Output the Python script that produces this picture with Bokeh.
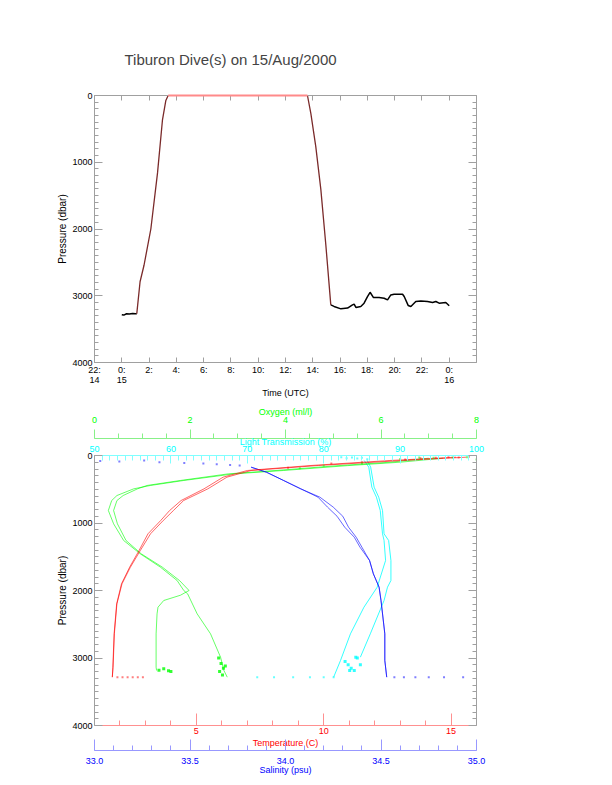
from bokeh.plotting import figure
from bokeh.models import Range1d, LinearAxis, FixedTicker, PrintfTickFormatter, Title
from bokeh.layouts import column
from bokeh.embed import file_html
from bokeh.resources import INLINE

FONT = "Liberation Sans"
GREY = "#a0a0a0"

# ---------------- top panel data: pressure vs time (hours from 00:00 15 Aug) -------------
dive_hour = [0.0, 0.15, 0.35, 0.55, 0.8, 1.0, 1.1, 1.34, 1.63, 2.13, 2.62, 2.98, 3.23, 3.4,
             13.61, 13.86, 14.22, 14.59, 14.96, 15.32, 15.56, 16.06, 16.55, 16.91, 17.03, 17.16,
             17.52, 17.76, 18.01, 18.2, 18.45, 18.86, 19.23, 19.48, 19.72, 19.96, 20.58, 20.7,
             20.99, 21.19, 21.55, 21.92, 22.41, 22.78, 23.02, 23.26, 23.75, 24.0]
dive_pres = [3284, 3290, 3270, 3275, 3265, 3270, 3268, 2790, 2543, 2000, 1160, 370, 74, 0,
             0, 272, 765, 1407, 2247, 3136, 3160, 3196, 3185, 3136, 3126, 3175,
             3160, 3111, 3012, 2948, 3027, 3027, 3037, 3062, 2988, 2978, 2978, 3012,
             3145, 3160, 3086, 3077, 3086, 3101, 3086, 3111, 3101, 3151]
time_ticks = [-2, 0, 2, 4, 6, 8, 10, 12, 14, 16, 18, 20, 22, 24]
time_labels = ["22:\n14", "0:\n15", "2:", "4:", "6:", "8:", "10:", "12:", "14:", "16:",
               "18:", "20:", "22:", "0:\n16"]
pres_major = [0, 1000, 2000, 3000, 4000]
pres_minor = list(range(0, 4001, 100))

# ---------------- bottom panel data: profiles vs pressure ----------------
temp_pres = [25, 74, 148, 222, 321, 494, 667, 815, 963, 1160, 1407, 1654, 1901, 2198, 2642, 3136, 3284]
temp_down = [15.6, 13.1, 9.8, 7.15, 6.2, 5.45, 4.5, 4.1, 3.7, 3.2, 2.8, 2.41, 2.08, 1.88, 1.78, 1.73, 1.7]
temp_up = [15.2, 12.6, 9.5, 7.0, 6.05, 5.3, 4.4, 3.95, 3.6, 3.1, 2.75, 2.38, 2.06, 1.87, 1.77, 1.72, 1.7]

sal_pres = [173, 247, 370, 494, 617, 765, 900, 1062, 1210, 1358, 1555, 1753, 1951, 2148, 2642, 3037, 3284]
sal_down = [33.82, 33.9, 33.99, 34.08, 34.17, 34.22, 34.27, 34.31, 34.36, 34.39, 34.44, 34.46, 34.49, 34.5, 34.52, 34.52, 34.53]
sal_up = [33.82, 33.9, 33.99, 34.08, 34.18, 34.25, 34.3, 34.33, 34.37, 34.40, 34.44, 34.46, 34.49, 34.5, 34.52, 34.52, 34.53]

oxy_down_pres = [40, 99, 150, 222, 272, 370, 444, 494, 593, 667, 815, 1012, 1259, 1457, 1654, 1852,
                 2000, 2049, 2346, 2642, 2988, 3185, 3284]
oxy_down = [7.3, 6.41, 5.3, 3.96, 2.92, 1.87, 1.17, 0.82, 0.47, 0.36, 0.29, 0.4, 0.61, 0.96, 1.38, 1.73,
            1.87, 1.95, 2.15, 2.43, 2.64, 2.71, 2.78]
oxy_up_pres = [40, 99, 150, 222, 272, 370, 444, 494, 593, 667, 815, 1012, 1259, 1457, 1654, 1852,
               2000, 2070, 2148, 2247, 2346, 2642, 3136, 3185]
oxy_up = [7.0, 6.2, 5.1, 3.8, 2.8, 1.8, 1.1, 0.9, 0.6, 0.47, 0.4, 0.48, 0.66, 0.98, 1.42, 1.78,
          1.98, 1.8, 1.45, 1.33, 1.31, 1.29, 1.29, 1.3]

lt_down_pres = [74, 173, 469, 617, 815, 1160, 1259, 1555, 1852, 1951, 2148, 2642, 2988]
lt_down = [85.7, 86.15, 86.6, 87.2, 87.7, 87.9, 88.5, 88.8, 88.8, 88.35, 87.9, 86.1, 84.8]
lt_up_pres = [74, 173, 469, 617, 815, 1160, 1259, 1555, 1951, 2247, 2642, 3037, 3284]
lt_up = [85.3, 85.9, 86.3, 86.9, 87.4, 87.7, 87.9, 88.1, 87.0, 85.27, 83.5, 82.2, 81.3]

# scattered samples near surface and at the bottom
surf_temp = [15.7, 15.3, 14.9, 14.4, 13.8, 13.2, 11.5, 10.3, 8.6]
surf_temp_p = [20, 30, 25, 35, 40, 60, 100, 120, 180]
surf_sal = [33.03, 33.13, 33.26, 33.34, 33.47, 33.57, 33.64, 33.71, 33.76]
surf_sal_p = [80, 90, 74, 100, 110, 120, 130, 140, 148]
surf_oxy = [8.0, 7.8, 7.5, 7.1, 6.8, 6.4, 5.6, 4.8, 4.3]
surf_oxy_p = [60, 25, 30, 35, 30, 50, 120, 150, 190]
surf_lt = [82.3, 83.0, 83.7, 84.4, 85.0, 85.7]
surf_lt_p = [25, 40, 30, 45, 35, 55]
bot_temp = [1.9, 2.1, 2.3, 2.5, 2.7, 2.9]
bot_sal = [34.57, 34.62, 34.68, 34.75, 34.83, 34.93]
bot_lt = [71.3, 73.5, 76.0, 78.2, 80.0, 81.3]
bot_p = [3284, 3284, 3284, 3284, 3284, 3284]
clu_oxy = [1.35, 1.45, 1.55, 1.6, 2.6, 2.65, 2.7, 2.62, 2.68, 2.74]
clu_oxy_p = [3180, 3160, 3190, 3200, 3000, 3080, 3150, 3200, 3250, 3120]
clu_lt = [82.8, 83.2, 83.6, 84.0, 84.4, 84.8, 83.4, 84.2]
clu_lt_p = [3050, 3100, 3150, 3185, 3000, 3100, 3185, 2990]


def style_axis(ax, color, label_color, tick_in, minor_in, tick_out=0, minor_out=0, title_size="9px"):
    ax.axis_line_color = color
    ax.major_tick_line_color = color
    ax.minor_tick_line_color = color
    ax.major_tick_in = tick_in
    ax.major_tick_out = tick_out
    ax.minor_tick_in = minor_in
    ax.minor_tick_out = minor_out
    ax.major_label_text_font = FONT
    ax.major_label_text_font_size = "9px"
    ax.major_label_text_color = label_color
    ax.major_label_text_line_height = 1.0
    ax.axis_label_text_font = FONT
    ax.axis_label_text_font_size = title_size
    ax.axis_label_text_font_style = "normal"
    ax.axis_label_text_color = label_color


def tick_only_axis(marks, length, color, line=True, x_range_name="default"):
    # an axis with no labelled ticks: marks are drawn as minor ticks pointing inwards
    ax = LinearAxis(ticker=FixedTicker(ticks=[], minor_ticks=marks), x_range_name=x_range_name)
    ax.major_tick_in = 0
    ax.major_tick_out = 0
    ax.minor_tick_in = length
    ax.minor_tick_out = 0
    ax.minor_tick_line_color = color
    ax.major_tick_line_color = None
    ax.axis_line_color = color if line else None
    ax.major_label_standoff = 0
    return ax


def add_pressure_axes(p):
    ya = p.yaxis[0]
    ya.ticker = FixedTicker(ticks=pres_major, minor_ticks=pres_minor)
    ya.axis_label = "Pressure (dbar)"
    style_axis(ya, GREY, "black", 8, 4, title_size="10px")
    ya.major_label_standoff = 2
    ya.axis_label_standoff = 1
    p.add_layout(tick_only_axis(pres_minor, 4, GREY), "right")
    p.add_layout(tick_only_axis(pres_major, 8, GREY, line=False), "right")


# ---------------- top figure ----------------
p1 = figure(width=604, height=400, x_range=Range1d(-2, 26), y_range=Range1d(4000, 0),
            output_backend="svg", toolbar_location=None,
            min_border_left=94, min_border_right=128, min_border_top=95, min_border_bottom=35)
p1.outline_line_color = None
p1.grid.visible = False
p1.title.text = "Tiburon Dive(s) on 15/Aug/2000"
p1.title.text_font = FONT
p1.title.text_font_size = "15px"
p1.title.text_font_style = "normal"
p1.title.align = "left"
p1.title.offset = 30
p1.title.standoff = 55

xa = p1.xaxis[0]
xa.ticker = FixedTicker(ticks=time_ticks, minor_ticks=[])
xa.major_label_overrides = {t: l for t, l in zip(time_ticks, time_labels)}
xa.axis_label = "Time (UTC)"
style_axis(xa, GREY, "black", 5, 0)
xa.major_label_standoff = 2
xa.axis_label_standoff = 0
p1.add_layout(tick_only_axis(time_ticks, 5, GREY), "above")
add_pressure_axes(p1)

p1.line(dive_hour[:7], dive_pres[:7], line_color="black", line_width=1.5)
p1.line(dive_hour[19:], dive_pres[19:], line_color="black", line_width=1.5)
p1.line(dive_hour[6:14], dive_pres[6:14], line_color="#7a2a2a", line_width=1.3)
p1.line(dive_hour[14:20], dive_pres[14:20], line_color="#7a2a2a", line_width=1.3)
p1.line(dive_hour[13:15], dive_pres[13:15], line_color="#ff8a8a", line_width=2, level="overlay")

# ---------------- bottom figure ----------------
p2 = figure(width=604, height=380, x_range=Range1d(1, 16), y_range=Range1d(4000, 0),
            output_backend="svg", toolbar_location=None,
            min_border_left=94, min_border_right=128, min_border_top=55, min_border_bottom=55)
p2.outline_line_color = None
p2.grid.visible = False
p2.extra_x_ranges = {"sal": Range1d(33.0, 35.0), "lt": Range1d(50, 100), "oxy": Range1d(0, 8)}

ta = p2.xaxis[0]
ta.ticker = FixedTicker(ticks=[5, 10, 15], minor_ticks=list(range(2, 16)))
ta.axis_label = "Temperature (C)"
style_axis(ta, "#ff9090", "#ff0000", 12, 5)
ta.major_label_standoff = 2
ta.axis_label_standoff = 1

spacer = tick_only_axis([], 0, GREY, line=False)
spacer.major_tick_out = 4
p2.add_layout(spacer, "below")

sa = LinearAxis(x_range_name="sal",
                ticker=FixedTicker(ticks=[33.0, 33.5, 34.0, 34.5, 35.0],
                                   minor_ticks=[round(33.0 + 0.1 * i, 1) for i in range(21)]),
                formatter=PrintfTickFormatter(format="%.1f"), axis_label="Salinity (psu)")
style_axis(sa, "#9898ff", "#0000ff", 11, 5)
sa.major_label_standoff = 7
sa.axis_label_standoff = -2
p2.add_layout(sa, "below")

# light transmission axis (labels only), its title, a small gap, then the oxygen axis
la = LinearAxis(x_range_name="lt",
                ticker=FixedTicker(ticks=[50, 60, 70, 80, 90, 100], minor_ticks=list(range(50, 101))))
style_axis(la, "#80ffff", "#00ffff", 8, 5)
la.major_label_standoff = 4
p2.add_layout(la, "above")
p2.add_layout(Title(text="Light Transmission (%)", align="center", text_font=FONT,
                    text_font_size="9px", text_font_style="normal", text_color="#00ffff",
                    standoff=-8), "above")
gap = tick_only_axis([], 0, GREY, line=False)
gap.major_tick_out = 1
p2.add_layout(gap, "above")

oa = LinearAxis(x_range_name="oxy",
                ticker=FixedTicker(ticks=[0, 2, 4, 6, 8], minor_ticks=[0.5 * i for i in range(17)]),
                axis_label="Oxygen (ml/l)")
style_axis(oa, "#88f088", "#00ff00", 0, 0, 9, 5)
oa.major_label_standoff = 7
oa.axis_label_standoff = -3
p2.add_layout(oa, "above")

add_pressure_axes(p2)

RED, BLUE, GREEN, CYAN = "#ff0000", "#0000ff", "#00ff00", "#00ffff"
LA = 0.6
p2.line(lt_down, lt_down_pres, x_range_name="lt", line_color=CYAN, line_width=1, line_alpha=0.8)
p2.line(lt_up, lt_up_pres, x_range_name="lt", line_color=CYAN, line_width=1, line_alpha=0.8)
p2.line(oxy_down, oxy_down_pres, x_range_name="oxy", line_color=GREEN, line_width=1, line_alpha=LA)
p2.line(oxy_up, oxy_up_pres, x_range_name="oxy", line_color=GREEN, line_width=1, line_alpha=LA)
p2.line(sal_down, sal_pres, x_range_name="sal", line_color=BLUE, line_width=1, line_alpha=LA)
p2.line(sal_up, sal_pres, x_range_name="sal", line_color=BLUE, line_width=1, line_alpha=LA)
p2.line(temp_down, temp_pres, line_color=RED, line_width=1, line_alpha=LA)
p2.line(temp_up, temp_pres, line_color=RED, line_width=1, line_alpha=LA)

MS = 2
p2.scatter(surf_temp, surf_temp_p, marker="square", size=MS, color=RED, alpha=0.5, line_width=0)
p2.scatter(surf_sal, surf_sal_p, x_range_name="sal", marker="square", size=MS, color=BLUE, alpha=0.5, line_width=0)
p2.scatter(surf_oxy, surf_oxy_p, x_range_name="oxy", marker="square", size=MS, color=GREEN, alpha=0.5, line_width=0)
p2.scatter(surf_lt, surf_lt_p, x_range_name="lt", marker="square", size=MS, color=CYAN, alpha=0.6, line_width=0)
p2.scatter(bot_temp, bot_p, marker="square", size=MS, color=RED, alpha=0.5, line_width=0)
p2.scatter(bot_sal, bot_p, x_range_name="sal", marker="square", size=MS, color=BLUE, alpha=0.5, line_width=0)
p2.scatter(bot_lt, bot_p, x_range_name="lt", marker="square", size=MS, color=CYAN, alpha=0.6, line_width=0)
p2.scatter(clu_oxy, clu_oxy_p, x_range_name="oxy", marker="square", size=3, color=GREEN, alpha=0.8, line_width=0)
p2.scatter(clu_lt, clu_lt_p, x_range_name="lt", marker="square", size=3, color=CYAN, alpha=0.8, line_width=0)

layout = column(p1, p2, spacing=0)
open("out.html", "w").write(file_html(layout, INLINE))
